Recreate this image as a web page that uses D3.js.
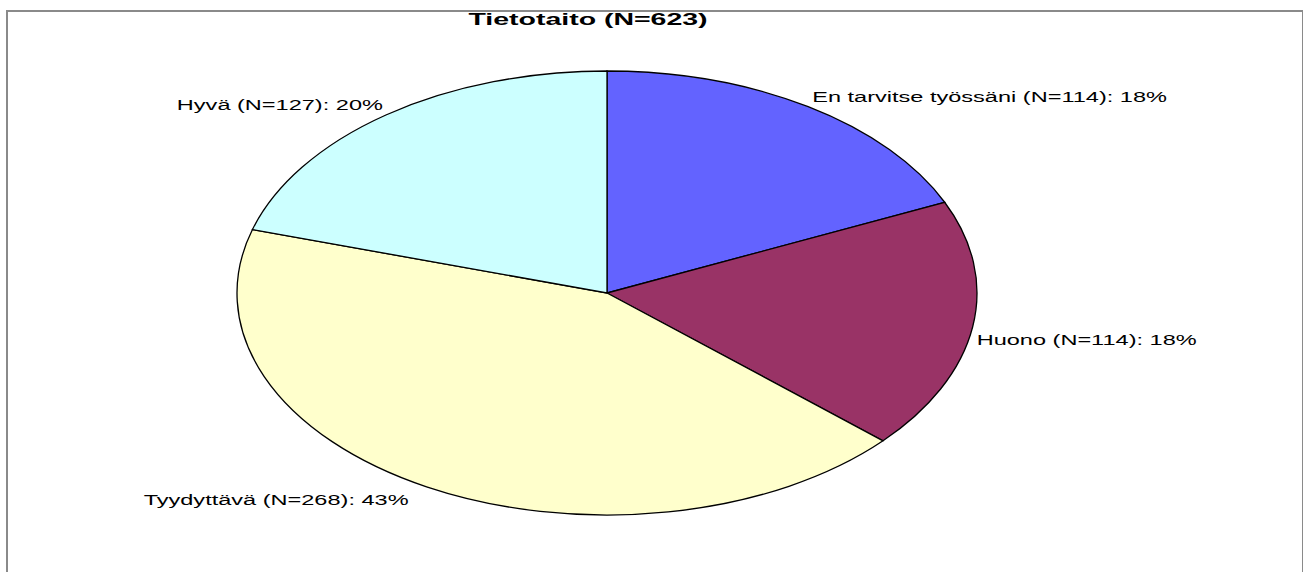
<!DOCTYPE html>
<meta charset="utf-8">
<head>
    <title>Tietotaito (N=623)</title>
    <script type="text/javascript" src="https://d3js.org/d3.v7.min.js"></script>
    <style type="text/css">
        body { margin: 0; background: #fff; }
        text { font-family: "Liberation Sans", Arial, sans-serif; fill: #000; }
    </style>
</head>
<body>
    <div id="chart"></div>
    <script>
        // data
        var title = "Tietotaito (N=623)";
        var categories = ["En tarvitse työssäni", "Huono", "Tyydyttävä", "Hyvä"];
        var counts = [114, 114, 268, 127];
        var percents = [18, 18, 43, 20];
        var colors = ["#6363FF", "#993366", "#FFFFCC", "#CCFFFF"];

        var width = 1303, height = 572;
        var cx = 607, cy = 293;
        var rx = 370, ry = 222;   // the pie is stretched sideways
        var textScale = 1.57;

        var svg = d3.select("#chart")
            .append("svg")
            .attr("width", width)
            .attr("height", height);

        // chart frame
        svg.append("rect")
            .attr("x", 7)
            .attr("y", 11)
            .attr("width", 1296)
            .attr("height", 620)
            .attr("fill", "none")
            .attr("stroke", "#8a8a8a")
            .attr("stroke-width", 2);

        var data = categories.map(function(c, i) {
            return {name: c, n: counts[i], pct: percents[i], color: colors[i]};
        });

        var pie = d3.pie()
            .sort(null)
            .value(function(d) { return d.n; });
        var arcs = pie(data);

        var arc = d3.arc()
            .innerRadius(0)
            .outerRadius(rx);

        var g = svg.append("g")
            .attr("transform", "translate(" + cx + "," + cy + ") scale(1," + (ry / rx) + ")");

        g.selectAll("path")
            .data(arcs)
            .enter()
            .append("path")
            .attr("d", arc)
            .attr("fill", function(d) { return d.data.color; })
            .attr("stroke", "#000")
            .attr("stroke-width", 1.3)
            .attr("vector-effect", "non-scaling-stroke");

        // labels placed at the outer edge of each slice
        svg.selectAll("text.lbl")
            .data(arcs)
            .enter()
            .append("text")
            .attr("class", "lbl")
            .attr("transform", function(d) {
                var a = (d.startAngle + d.endAngle) / 2;
                var ex = cx + rx * Math.sin(a);
                var ey = cy - ry * Math.cos(a);
                var right = Math.sin(a) >= 0;
                var top = Math.cos(a) > 0;
                var x = ex + (right ? 4 : (top ? -3 : -18));
                var y = ey + (top ? -5 : 18);
                return "translate(" + x + "," + y + ") scale(" + textScale + ",1)";
            })
            .attr("text-anchor", function(d) {
                var a = (d.startAngle + d.endAngle) / 2;
                return Math.sin(a) >= 0 ? "start" : "end";
            })
            .style("font-size", "15px")
            .text(function(d) {
                return d.data.name + " (N=" + d.data.n + "): " + d.data.pct + "%";
            });

        svg.append("text")
            .attr("transform", "translate(588,25) scale(1.78,1)")
            .attr("text-anchor", "middle")
            .style("font-size", "16px")
            .style("font-weight", "bold")
            .text(title);
    </script>
</body>
</html>
